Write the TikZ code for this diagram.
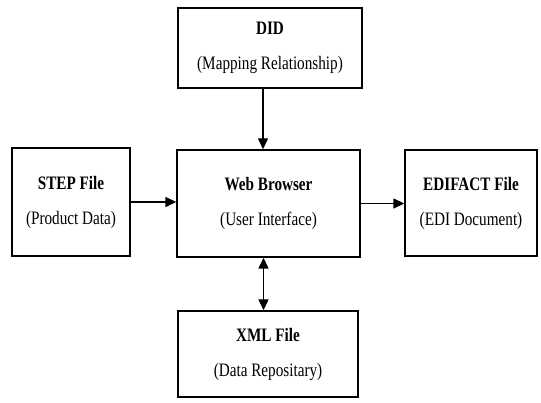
\documentclass[tikz,border=0pt]{standalone}
\usepackage{fontspec}
\usepackage{graphicx}
\setmainfont{Liberation Serif}
\usetikzlibrary{arrows.meta}
% narrow, tall lettering for the box captions
\newcommand{\narrowtext}[1]{\scalebox{0.8}[1]{#1}}
\newcommand{\boxtext}[2]{\narrowtext{\textbf{#1}}\\\narrowtext{#2}}
\begin{document}
\begin{tikzpicture}[x=1pt,y=-1pt,
  block/.style={draw, line width=1.4pt, align=center, inner sep=0pt,
    font=\fontsize{19}{35}\selectfont},
  link/.style={line width=1.4pt, -{Triangle[length=11pt,width=10pt]}},
  duplex/.style={line width=1.4pt, {Triangle[length=11pt,width=10pt]}-{Triangle[length=11pt,width=10pt]}}]
  \useasboundingbox (0,0) rectangle (541,403);

  % system components
  \node[block, minimum width=184pt, minimum height=80pt] (did) at (270,48)
    {\boxtext{DID}{(Mapping Relationship)}};
  \node[block, minimum width=118pt, minimum height=108pt] (step) at (71,202)
    {\boxtext{STEP File}{(Product Data)}};
  \node[block, minimum width=183pt, minimum height=107pt] (web) at (268.5,203.5)
    {\boxtext{Web Browser}{(User Interface)}};
  \node[block, minimum width=132pt, minimum height=106pt] (edi) at (471,203)
    {\boxtext{EDIFACT File}{(EDI Document)}};
  \node[block, minimum width=180pt, minimum height=86pt] (xml) at (268,354)
    {\boxtext{XML File}{(Data Repositary)}};

  % data flows
  \draw[link] ([xshift=-7pt]did.south) -- ([xshift=-7pt]did.south |- web.north);
  \draw[link] (step.east) -- (step.east -| web.west);
  \draw[link] (web.east) -- (web.east -| edi.west);
  \draw[duplex] ([xshift=-5pt]web.south) -- ([xshift=-5pt]web.south |- xml.north);
\end{tikzpicture}
\end{document}
